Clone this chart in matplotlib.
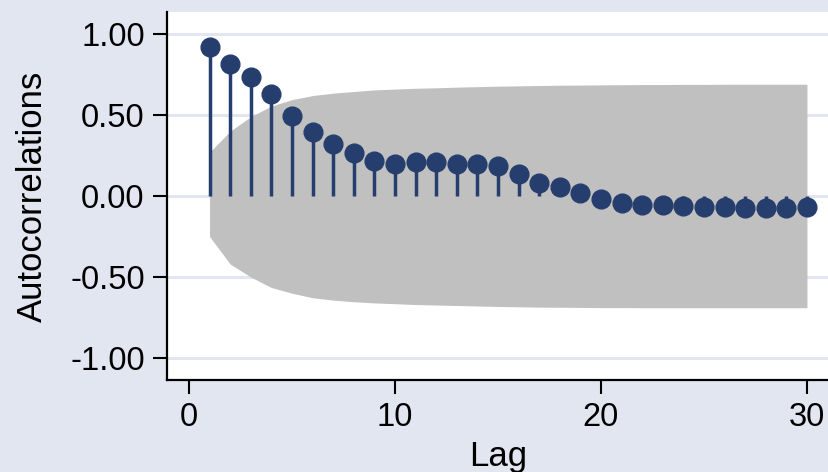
import matplotlib
matplotlib.use("Agg")
import matplotlib.pyplot as plt

# autocorrelations
lags = list(range(1, 31))
acf = [0.922, 0.816, 0.737, 0.630, 0.496, 0.395, 0.319, 0.265, 0.217, 0.197,
       0.207, 0.209, 0.200, 0.199, 0.187, 0.136, 0.083, 0.057, 0.017, -0.020,
       -0.041, -0.054, -0.057, -0.062, -0.066, -0.070, -0.072, -0.074, -0.074, -0.071]

# confidence band (upper / lower)
band_hi = [0.27, 0.40, 0.49, 0.555, 0.595, 0.62, 0.635, 0.645, 0.655, 0.66,
           0.665, 0.668, 0.672, 0.675, 0.678, 0.68, 0.682, 0.684, 0.685, 0.686,
           0.687, 0.688, 0.688, 0.689, 0.689, 0.69, 0.69, 0.69, 0.69, 0.69]
band_lo = [-0.25, -0.42, -0.50, -0.565, -0.60, -0.628, -0.643, -0.653, -0.66, -0.665,
           -0.67, -0.673, -0.676, -0.679, -0.682, -0.684, -0.686, -0.687, -0.688, -0.689,
           -0.689, -0.69, -0.69, -0.69, -0.69, -0.69, -0.69, -0.69, -0.69, -0.69]

yticks = [-1.0, -0.5, 0.0, 0.5, 1.0]
xticks = [0, 10, 20, 30]

bg = "#e2e6f1"
navy = "#253e6d"

plt.rcParams["font.family"] = ["Liberation Sans", "DejaVu Sans"]

fig = plt.figure(figsize=(8.29, 4.72), dpi=100, facecolor=bg)
ax = fig.add_axes([0.2014, 0.1949, 0.7986, 0.7797])
ax.set_facecolor("white")

for y in yticks:
    ax.axhline(y, color=bg, lw=2.2, zorder=0)

ax.fill_between(lags, band_lo, band_hi, color="#c0c0c0", lw=0, zorder=1)
ax.vlines(lags, 0, acf, color=navy, lw=2.5, zorder=2)
ax.plot(lags, acf, "o", color=navy, ms=13.5, zorder=3)

ax.set_xlim(-1.068, 31.07)
ax.set_ylim(-1.136, 1.136)
ax.set_yticks(yticks)
ax.set_yticklabels([f"{v:.2f}" for v in yticks])
ax.set_xticks(xticks)

for s in ["top", "right"]:
    ax.spines[s].set_visible(False)
for s in ["left", "bottom"]:
    ax.spines[s].set_linewidth(1.6)
ax.tick_params(length=10, width=1.5, labelsize=23.5, pad=6)

ax.set_ylabel("Autocorrelations", fontsize=25, labelpad=15)
ax.set_xlabel("Lag", fontsize=25, labelpad=5)

fig.savefig("out.png", dpi=100, facecolor=bg)
